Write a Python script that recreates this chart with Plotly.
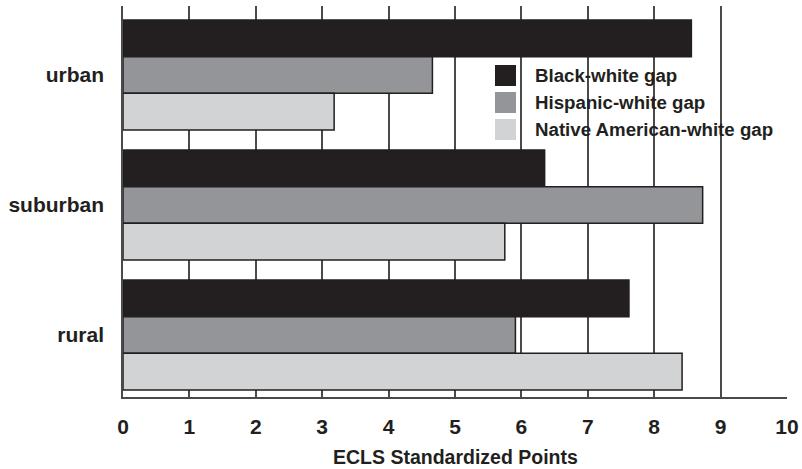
import plotly.graph_objects as go

categories = ["urban", "suburban", "rural"]
series_names = ["Black-white gap", "Hispanic-white gap", "Native American-white gap"]
black_white = [8.56, 6.35, 7.62]
hispanic_white = [4.66, 8.73, 5.91]
native_white = [3.18, 5.75, 8.42]
x_ticks = list(range(0, 11))
x_title = "ECLS Standardized Points"

colors = ["#231f20", "#939598", "#d1d3d4"]
outline = "#231f20"
FONT = "Liberation Sans, Arial, sans-serif"

fig = go.Figure()
for name, vals, col in zip(series_names, [black_white, hispanic_white, native_white], colors):
    fig.add_trace(go.Bar(
        y=categories, x=vals, name=name, orientation="h",
        marker=dict(color=col, line=dict(color=outline, width=1.5)),
        showlegend=False,
    ))

W, H = 802, 469
ml, mr, mt, mb = 123, 15, 6, 72
pw, ph = W - ml - mr, H - mt - mb

fig.update_layout(
    width=W, height=H,
    margin=dict(l=ml, r=mr, t=mt, b=mb),
    paper_bgcolor="white", plot_bgcolor="white",
    barmode="group", bargap=0.154, bargroupgap=0,
    font=dict(family=FONT, color="#231f20", weight="bold"),
    xaxis=dict(
        range=[0, 10], tickvals=x_ticks, ticktext=[str(t) for t in x_ticks],
        showgrid=True, gridcolor="#4a4a4a", gridwidth=1.5,
        zeroline=False, showline=True, linecolor="#4a4a4a", linewidth=1.5,
        ticks="", ticklabelstandoff=10, automargin=False,
        ticklabeloverflow="allow",
        tickfont=dict(size=21, family=FONT, weight="bold"),
    ),
    yaxis=dict(
        range=[2.477, -0.531], showgrid=False, zeroline=False,
        showline=True, linecolor="#4a4a4a", linewidth=1.5,
        ticks="", ticklabelstandoff=13, automargin=False,
        tickfont=dict(size=21, family=FONT, weight="bold"),
    ),
)

def px_x(px):
    return (px - ml) / pw
def px_y(py):
    return 1 - (py - mt) / ph

# axis title
fig.add_annotation(xref="paper", yref="paper", x=0.5, y=px_y(457),
                   text=x_title, showarrow=False, xanchor="center", yanchor="middle",
                   font=dict(size=19.5, family=FONT, weight="bold", color="#231f20"))

# legend drawn as shapes + text (paper coordinates)
row_tops = [65, 92, 119]
for name, col, top in zip(series_names, colors, row_tops):
    fig.add_shape(type="rect", xref="paper", yref="paper",
                  x0=px_x(495), x1=px_x(516), y0=px_y(top + 21), y1=px_y(top),
                  fillcolor=col, line=dict(width=0), layer="above")
    fig.add_annotation(xref="paper", yref="paper", x=px_x(533), y=px_y(top + 10.5),
                       text=name, showarrow=False, xanchor="left", yanchor="middle",
                       font=dict(size=18.7, family=FONT, weight="bold", color="#231f20"))

fig.write_html("out.html", config={"displayModeBar": False},
               post_script="document.body.style.margin='0';")
